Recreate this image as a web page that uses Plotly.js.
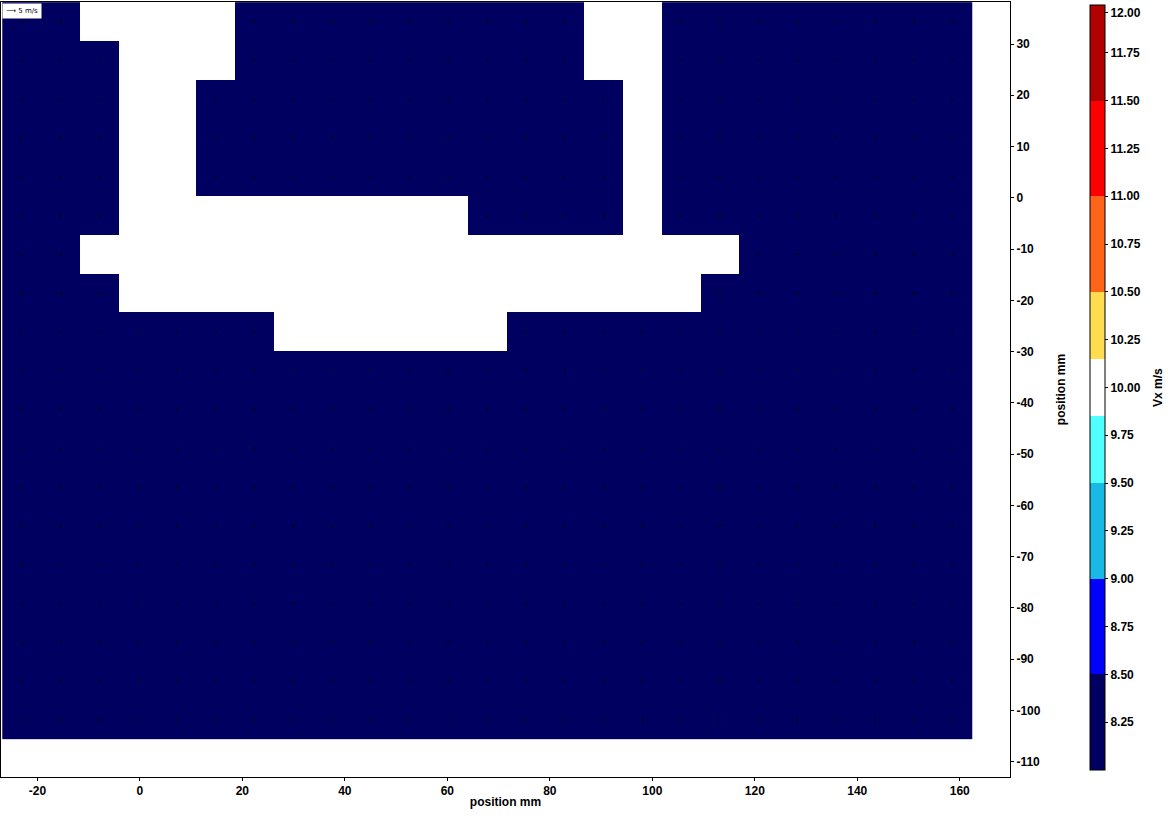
<!DOCTYPE html>
<html>
<head>
<meta charset="utf-8">
<script src="https://cdn.plot.ly/plotly-3.0.1.min.js"></script>
<style>html,body{margin:0;padding:0;background:#fff;}#chart{width:1168px;height:822px;}</style>
</head>
<body>
<div id="chart"></div>
<script>
// grid cell centres (mm)
var xCenters = [-23.07,-15.50,-7.93,-0.36,7.21,14.78,22.35,29.92,37.49,45.06,52.63,60.20,67.77,75.34,82.91,90.48,98.05,105.62,113.19,120.76,128.33,135.90,143.47,151.04,158.61];
var yCenters = [34.38,26.81,19.24,11.67,4.10,-3.47,-11.04,-18.61,-26.18,-33.75,-41.32,-48.89,-56.46,-64.03,-71.60,-79.17,-86.74,-94.31,-101.88];
var N = null;
// Vx (m/s), rows from top to bottom; null = masked
var vx = [
 [8.2,8.2,N,N,N,N,8.2,8.2,8.2,8.2,8.2,8.2,8.2,8.2,8.2,N,N,8.2,8.2,8.2,8.2,8.2,8.2,8.2,8.2],
 [8.2,8.2,8.2,N,N,N,8.2,8.2,8.2,8.2,8.2,8.2,8.2,8.2,8.2,N,N,8.2,8.2,8.2,8.2,8.2,8.2,8.2,8.2],
 [8.2,8.2,8.2,N,N,8.2,8.2,8.2,8.2,8.2,8.2,8.2,8.2,8.2,8.2,8.2,N,8.2,8.2,8.2,8.2,8.2,8.2,8.2,8.2],
 [8.2,8.2,8.2,N,N,8.2,8.2,8.2,8.2,8.2,8.2,8.2,8.2,8.2,8.2,8.2,N,8.2,8.2,8.2,8.2,8.2,8.2,8.2,8.2],
 [8.2,8.2,8.2,N,N,8.2,8.2,8.2,8.2,8.2,8.2,8.2,8.2,8.2,8.2,8.2,N,8.2,8.2,8.2,8.2,8.2,8.2,8.2,8.2],
 [8.2,8.2,8.2,N,N,N,N,N,N,N,N,N,8.2,8.2,8.2,8.2,N,8.2,8.2,8.2,8.2,8.2,8.2,8.2,8.2],
 [8.2,8.2,N,N,N,N,N,N,N,N,N,N,N,N,N,N,N,N,N,8.2,8.2,8.2,8.2,8.2,8.2],
 [8.2,8.2,8.2,N,N,N,N,N,N,N,N,N,N,N,N,N,N,N,8.2,8.2,8.2,8.2,8.2,8.2,8.2],
 [8.2,8.2,8.2,8.2,8.2,8.2,8.2,N,N,N,N,N,N,8.2,8.2,8.2,8.2,8.2,8.2,8.2,8.2,8.2,8.2,8.2,8.2],
 [8.2,8.2,8.2,8.2,8.2,8.2,8.2,8.2,8.2,8.2,8.2,8.2,8.2,8.2,8.2,8.2,8.2,8.2,8.2,8.2,8.2,8.2,8.2,8.2,8.2],
 [8.2,8.2,8.2,8.2,8.2,8.2,8.2,8.2,8.2,8.2,8.2,8.2,8.2,8.2,8.2,8.2,8.2,8.2,8.2,8.2,8.2,8.2,8.2,8.2,8.2],
 [8.2,8.2,8.2,8.2,8.2,8.2,8.2,8.2,8.2,8.2,8.2,8.2,8.2,8.2,8.2,8.2,8.2,8.2,8.2,8.2,8.2,8.2,8.2,8.2,8.2],
 [8.2,8.2,8.2,8.2,8.2,8.2,8.2,8.2,8.2,8.2,8.2,8.2,8.2,8.2,8.2,8.2,8.2,8.2,8.2,8.2,8.2,8.2,8.2,8.2,8.2],
 [8.2,8.2,8.2,8.2,8.2,8.2,8.2,8.2,8.2,8.2,8.2,8.2,8.2,8.2,8.2,8.2,8.2,8.2,8.2,8.2,8.2,8.2,8.2,8.2,8.2],
 [8.2,8.2,8.2,8.2,8.2,8.2,8.2,8.2,8.2,8.2,8.2,8.2,8.2,8.2,8.2,8.2,8.2,8.2,8.2,8.2,8.2,8.2,8.2,8.2,8.2],
 [8.2,8.2,8.2,8.2,8.2,8.2,8.2,8.2,8.2,8.2,8.2,8.2,8.2,8.2,8.2,8.2,8.2,8.2,8.2,8.2,8.2,8.2,8.2,8.2,8.2],
 [8.2,8.2,8.2,8.2,8.2,8.2,8.2,8.2,8.2,8.2,8.2,8.2,8.2,8.2,8.2,8.2,8.2,8.2,8.2,8.2,8.2,8.2,8.2,8.2,8.2],
 [8.2,8.2,8.2,8.2,8.2,8.2,8.2,8.2,8.2,8.2,8.2,8.2,8.2,8.2,8.2,8.2,8.2,8.2,8.2,8.2,8.2,8.2,8.2,8.2,8.2],
 [8.2,8.2,8.2,8.2,8.2,8.2,8.2,8.2,8.2,8.2,8.2,8.2,8.2,8.2,8.2,8.2,8.2,8.2,8.2,8.2,8.2,8.2,8.2,8.2,8.2]
];
// colour levels (m/s) and band colours
var levels = [8.0,8.5,9.0,9.5,9.85,10.15,10.5,11.0,11.5,12.0];
var bandColors = ['#000060','#0000ff','#19b9e6','#50ffff','#ffffff','#ffdc50','#ff6419','#ff0000','#b00000'];
var cbTicks = [8.25,8.5,8.75,9.0,9.25,9.5,9.75,10.0,10.25,10.5,10.75,11.0,11.25,11.5,11.75,11.96];
var cbTickText = ['8.25','8.50','8.75','9.00','9.25','9.50','9.75','10.00','10.25','10.50','10.75','11.00','11.25','11.50','11.75','12.00'];
var xTicks = [-20,0,20,40,60,80,100,120,140,160];
var xTickText = ['-20','0','20','40','60','80','100','120','140','160'];
var yTicks = [30,20,10,0,-10,-20,-30,-40,-50,-60,-70,-80,-90,-100,-110];
var yTickText = ['30','20','10','0','-10','-20','-30','-40','-50','-60','-70','-80','-90','-100','-110'];

var zmin = levels[0], zmax = levels[levels.length-1];
var cs = [];
for (var i = 0; i < bandColors.length; i++) {
  cs.push([(levels[i]-zmin)/(zmax-zmin), bandColors[i]]);
  cs.push([(levels[i+1]-zmin)/(zmax-zmin), bandColors[i]]);
}

// vector dots at valid cell centres
var dx = [], dy = [];
for (var r = 0; r < yCenters.length; r++) {
  for (var c = 0; c < xCenters.length; c++) {
    if (vx[r][c] !== null) { dx.push(xCenters[c]); dy.push(yCenters[r]); }
  }
}

var bold = {family: 'Liberation Sans, Arial, sans-serif', size: 12, color: '#000', weight: 'bold'};

var heat = {
  type: 'heatmap', x: xCenters, y: yCenters, z: vx,
  zmin: zmin, zmax: zmax, colorscale: cs, zsmooth: false,
  hoverongaps: false,
  colorbar: {
    x: 1.0793, xanchor: 'left', xpad: 0,
    y: 0.5026, yanchor: 'middle', ypad: 0,
    len: 0.987, lenmode: 'fraction',
    thickness: 15, thicknessmode: 'pixels',
    outlinewidth: 1, outlinecolor: '#000',
    ticks: 'outside', ticklen: 3, tickcolor: '#000',
    tickvals: cbTicks, ticktext: cbTickText,
    ticklabeloverflow: 'allow',
    tickfont: bold,
    title: {text: ''}
  }
};
var dots = {
  type: 'scatter', mode: 'markers', x: dx, y: dy,
  marker: {size: 2.5, color: '#000', opacity: 0.8},
  hoverinfo: 'skip', showlegend: false
};

var layout = {
  width: 1168, height: 822,
  margin: {l: 1, r: 158, t: 2, b: 45},
  paper_bgcolor: '#fff', plot_bgcolor: '#fff',
  showlegend: false,
  xaxis: {
    range: [-27.1, 169.8], tickvals: xTicks, ticktext: xTickText, ticks: 'outside', ticklen: 3,
    tickcolor: '#000', showline: true, linecolor: '#000', linewidth: 1, mirror: true,
    showgrid: false, zeroline: false, tickfont: bold,
    title: {text: 'position mm', font: bold, standoff: 0}
  },
  yaxis: {
    side: 'right', range: [-113.0, 38.2], tickvals: yTicks, ticktext: yTickText, ticks: 'outside', ticklen: 3,
    tickcolor: '#000', showline: true, linecolor: '#000', linewidth: 1, mirror: true,
    showgrid: false, zeroline: false, tickfont: bold,
    title: {text: 'position mm', font: bold, standoff: 16}
  },
  annotations: [{
    xref: 'paper', yref: 'paper', x: 0.001, y: 0.999, xanchor: 'left', yanchor: 'top',
    text: '&#10230; 5 m/s', showarrow: false, bgcolor: '#fff', borderpad: 3,
    font: {family: 'DejaVu Sans, Liberation Sans, sans-serif', size: 7, color: '#000'}
  }, {
    xref: 'paper', yref: 'paper', x: 1.1467, y: 0.502, xanchor: 'center', yanchor: 'middle',
    text: 'Vx m/s', textangle: -90, showarrow: false, font: bold
  }]
};

Plotly.newPlot('chart', [heat, dots], layout, {displayModeBar: false, staticPlot: true});
</script>
</body>
</html>
